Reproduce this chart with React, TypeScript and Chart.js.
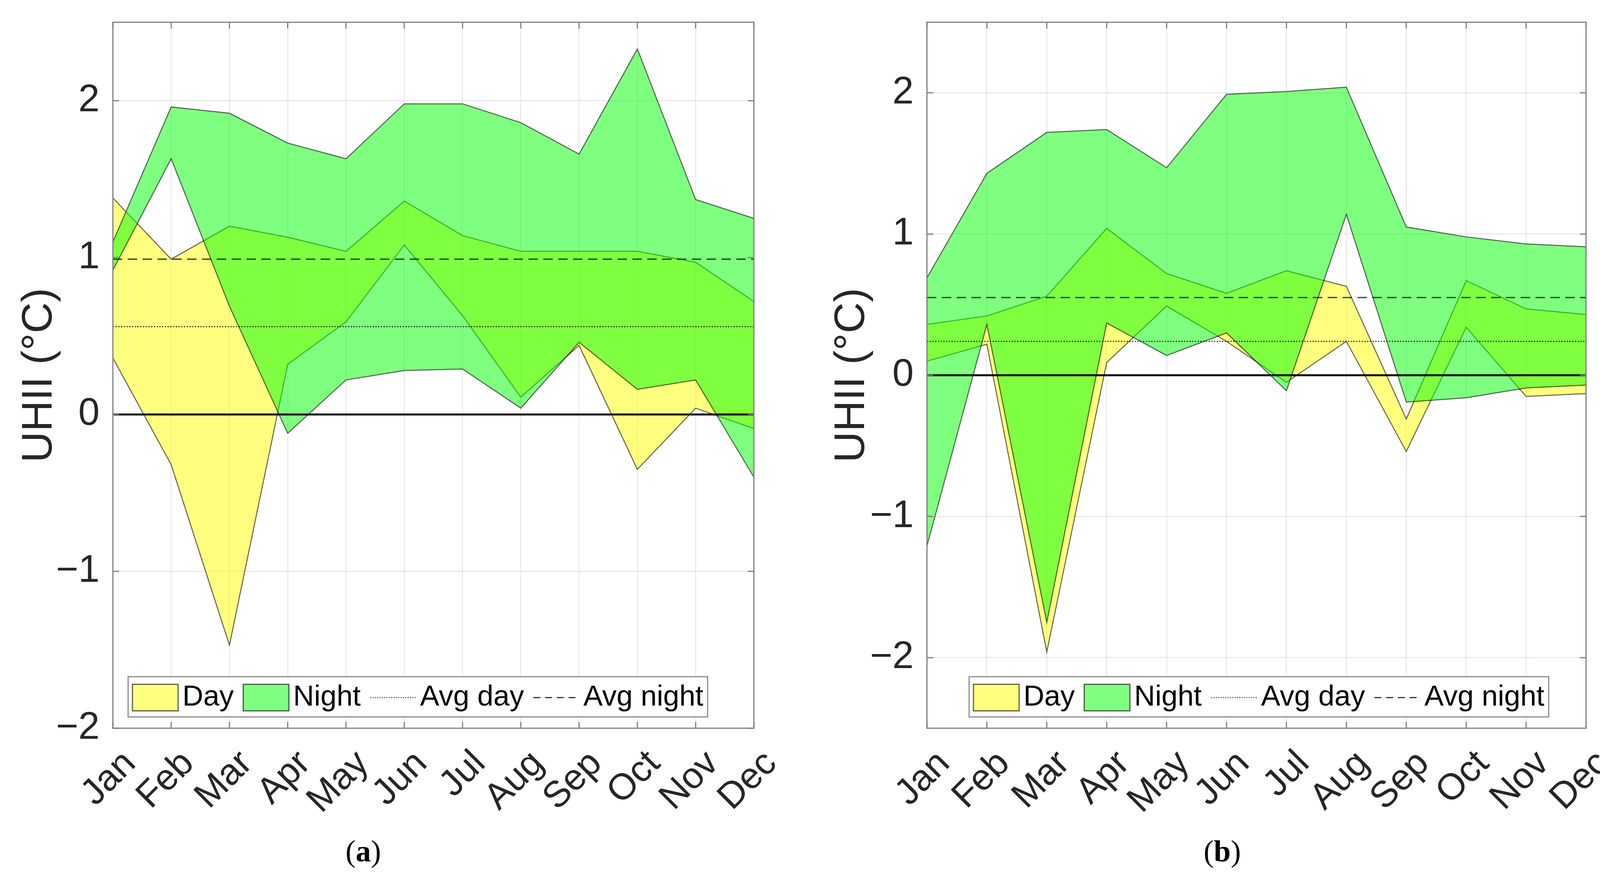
import React, { useEffect, useRef } from 'react';
import { Chart, registerables } from 'chart.js';

Chart.register(...registerables);

// ---------- data ----------
const months = ['Jan', 'Feb', 'Mar', 'Apr', 'May', 'Jun', 'Jul', 'Aug', 'Sep', 'Oct', 'Nov', 'Dec'];
const yTickValues = [-2, -1, 0, 1, 2];
const legendLabels = ['Day', 'Night', 'Avg day', 'Avg night'];
const yAxisTitle = 'UHII (°C)';

// Panel (a)
const dayLowA = [0.36, -0.32, -1.47, 0.32, 0.59, 1.08, 0.63, 0.11, 0.44, -0.35, 0.04, -0.09];
const dayHighA = [1.38, 0.99, 1.2, 1.13, 1.04, 1.36, 1.14, 1.04, 1.04, 1.04, 0.97, 0.72];
const nightLowA = [0.92, 1.63, 0.69, -0.12, 0.22, 0.28, 0.29, 0.04, 0.46, 0.16, 0.22, -0.4];
const nightHighA = [1.1, 1.96, 1.92, 1.73, 1.63, 1.98, 1.98, 1.86, 1.66, 2.33, 1.37, 1.25];
const avgDayA = 0.56;
const avgNightA = 0.99;
const yRangeA = [-2, 2.5];

// Panel (b)
const dayLowB = [0.1, 0.22, -1.96, 0.09, 0.49, 0.24, -0.05, 0.24, -0.54, 0.34, -0.15, -0.13];
const dayHighB = [0.36, 0.42, 0.56, 1.04, 0.72, 0.58, 0.74, 0.63, -0.31, 0.67, 0.47, 0.43];
const nightLowB = [-1.21, 0.36, -1.75, 0.37, 0.14, 0.3, -0.11, 1.14, -0.19, -0.16, -0.09, -0.07];
const nightHighB = [0.69, 1.43, 1.72, 1.74, 1.47, 1.99, 2.01, 2.04, 1.05, 0.98, 0.93, 0.91];
const avgDayB = 0.24;
const avgNightB = 0.55;
const yRangeB = [-2.5, 2.5];

// ---------- styles ----------
const FONT = '"Liberation Sans", Arial, Helvetica, sans-serif';
const YELLOW = 'rgba(255,255,0,0.5)';
const GREEN = 'rgba(0,255,0,0.5)';
const EDGE = 'rgba(0,0,0,0.62)';
const AXIS = '#7f7f7f';
const GRID = '#e2e2e2';
const TEXT = '#262626';

type PanelCfg = {
  dayLow: number[];
  dayHigh: number[];
  nightLow: number[];
  nightHigh: number[];
  avgDay: number;
  avgNight: number;
  yRange: number[];
  canvasW: number;
  canvasH: number;
  axisLeft: number;
  padRight: number;
  legendOffset: number;
};

const W_A = 2080;
const W_B = 2096;
const H = 2246;
const PLOT_TOP = 57;
const PLOT_BOTTOM = 1865;

const panelA: PanelCfg = {
  dayLow: dayLowA, dayHigh: dayHighA, nightLow: nightLowA, nightHigh: nightHighA,
  avgDay: avgDayA, avgNight: avgNightA, yRange: yRangeA,
  canvasW: W_A, canvasH: H, axisLeft: 289, padRight: W_A - 1930, legendOffset: 39,
};
const panelB: PanelCfg = {
  dayLow: dayLowB, dayHigh: dayHighB, nightLow: nightLowB, nightHigh: nightHighB,
  avgDay: avgDayB, avgNight: avgNightB, yRange: yRangeB,
  canvasW: W_B, canvasH: H, axisLeft: 2373 - 2080, padRight: W_B - (4083 - 2080), legendOffset: 108,
};

function decorPlugin(p: PanelCfg) {
  return {
    id: 'decor',
    afterDatasetsDraw(chart: any) {
      const { ctx, chartArea: a } = chart;
      const y = chart.scales.y;
      ctx.save();
      ctx.beginPath();
      ctx.rect(a.left, a.top, a.right - a.left, a.bottom - a.top);
      ctx.clip();
      const hline = (v: number, dash: number[], w: number, color: string) => {
        const py = y.getPixelForValue(v);
        ctx.beginPath();
        ctx.setLineDash(dash);
        ctx.lineWidth = w;
        ctx.strokeStyle = color;
        ctx.moveTo(a.left, py);
        ctx.lineTo(a.right, py);
        ctx.stroke();
      };
      hline(p.avgDay, [3, 4], 3, 'rgba(0,0,0,0.8)');
      hline(p.avgNight, [24, 14], 3, 'rgba(0,0,0,0.8)');
      hline(0, [], 5, '#000');
      ctx.restore();
    },
    afterDraw(chart: any) {
      const { ctx, chartArea: a } = chart;
      const x = chart.scales.x;
      const y = chart.scales.y;
      ctx.save();
      ctx.setLineDash([]);
      ctx.strokeStyle = AXIS;
      ctx.lineWidth = 3;
      ctx.strokeRect(a.left, a.top, a.right - a.left, a.bottom - a.top);
      const tl = 16;
      ctx.beginPath();
      yTickValues.forEach((v) => {
        const py = y.getPixelForValue(v);
        ctx.moveTo(a.left, py); ctx.lineTo(a.left + tl, py);
        ctx.moveTo(a.right, py); ctx.lineTo(a.right - tl, py);
      });
      months.forEach((_, i) => {
        const px = x.getPixelForValue(i);
        ctx.moveTo(px, a.bottom); ctx.lineTo(px, a.bottom - tl);
        ctx.moveTo(px, a.top); ctx.lineTo(px, a.top + tl);
      });
      ctx.stroke();

      // legend
      ctx.font = `74px ${FONT}`;
      const symW = 117;
      const symH = 68;
      const padX = 11;
      const gapSym = 11;
      const gapText = 24;
      const boxH = 103;
      let total = padX;
      legendLabels.forEach((lab, i) => {
        total += symW + gapSym + ctx.measureText(lab).width;
        if (i < legendLabels.length - 1) total += gapText;
      });
      total += padX;
      const bx = a.left + p.legendOffset;
      const by = a.bottom - 29 - boxH;
      ctx.fillStyle = '#ffffff';
      ctx.fillRect(bx, by, total, boxH);
      ctx.strokeStyle = '#8c8c8c';
      ctx.lineWidth = 3;
      ctx.strokeRect(bx, by, total, boxH);
      const cy = by + boxH / 2 + 2;
      let cx = bx + padX;
      legendLabels.forEach((lab, i) => {
        if (i < 2) {
          ctx.fillStyle = i === 0 ? YELLOW : GREEN;
          ctx.fillRect(cx, cy - symH / 2, symW, symH);
          ctx.strokeStyle = EDGE;
          ctx.lineWidth = 3;
          ctx.setLineDash([]);
          ctx.strokeRect(cx, cy - symH / 2, symW, symH);
        } else {
          ctx.beginPath();
          ctx.strokeStyle = i === 2 ? 'rgba(0,0,0,0.6)' : 'rgba(0,0,0,0.8)';
          ctx.lineWidth = 3;
          ctx.setLineDash(i === 2 ? [3, 3] : [18, 12]);
          ctx.moveTo(cx, cy);
          ctx.lineTo(cx + symW, cy);
          ctx.stroke();
          ctx.setLineDash([]);
        }
        cx += symW + gapSym;
        ctx.fillStyle = '#000';
        ctx.textAlign = 'left';
        ctx.textBaseline = 'middle';
        ctx.fillText(lab, cx, cy);
        cx += ctx.measureText(lab).width + gapText;
      });
      ctx.restore();
    },
  };
}

function fmtTick(v: number) {
  return String(v).replace('-', '\u2212');
}

function buildConfig(p: PanelCfg): any {
  const edge = { borderColor: EDGE, borderWidth: 2.5, pointRadius: 0, tension: 0 };
  return {
    type: 'line',
    data: {
      labels: months,
      datasets: [
        { label: 'Day low', data: p.dayLow, fill: false, order: 2, ...edge },
        { label: 'Day', data: p.dayHigh, fill: { target: 0, above: YELLOW, below: YELLOW }, backgroundColor: YELLOW, order: 2, ...edge },
        { label: 'Night low', data: p.nightLow, fill: false, order: 1, ...edge },
        { label: 'Night', data: p.nightHigh, fill: { target: 2, above: GREEN, below: GREEN }, backgroundColor: GREEN, order: 1, ...edge },
      ],
    },
    options: {
      animation: false,
      responsive: false,
      devicePixelRatio: 1,
      layout: { padding: { top: PLOT_TOP, right: p.padRight, left: 0, bottom: 0 } },
      plugins: { legend: { display: false }, tooltip: { enabled: false }, title: { display: false } },
      elements: { point: { radius: 0 }, line: { tension: 0 } },
      scales: {
        x: {
          type: 'category',
          offset: false,
          grid: { color: GRID, lineWidth: 2, drawTicks: false },
          border: { display: false },
          ticks: {
            autoSkip: false,
            maxRotation: 45,
            minRotation: 45,
            padding: 36,
            labelOffset: 44,
            color: TEXT,
            font: { family: FONT, size: 94 },
          },
          afterFit: (s: any) => { s.height = H - PLOT_BOTTOM; },
        },
        y: {
          min: p.yRange[0],
          max: p.yRange[1],
          afterBuildTicks: (s: any) => { s.ticks = yTickValues.map((v) => ({ value: v })); },
          grid: { color: GRID, lineWidth: 2, drawTicks: true, tickLength: 34, tickColor: 'rgba(0,0,0,0)' },
          border: { display: false },
          ticks: {
            padding: 0,
            color: TEXT,
            font: { family: FONT, size: 98, lineHeight: 1 },
            callback: (v: number) => fmtTick(v),
          },
          title: {
            display: true,
            text: yAxisTitle,
            color: TEXT,
            font: { family: FONT, size: 110 },
            padding: { top: 36, bottom: 0 },
          },
          afterFit: (s: any) => { s.width = p.axisLeft; },
        },
      },
    },
    plugins: [decorPlugin(p)],
  };
}

function PanelChart({ cfg, left }: { cfg: PanelCfg; left: number }) {
  const ref = useRef<HTMLCanvasElement | null>(null);
  useEffect(() => {
    if (!ref.current) return;
    const config = buildConfig(cfg);
    const chart = new Chart(ref.current, config);
    // nudge the plot area onto the target rectangle if layout margins moved it
    const dt = chart.chartArea.top - PLOT_TOP;
    if (Math.abs(dt) > 0.5 && config.options.layout.padding.top - dt >= 0) {
      config.options.layout.padding.top -= dt;
      chart.options = config.options;
      chart.update();
    }
    return () => chart.destroy();
  }, [cfg]);
  return (
    <canvas
      ref={ref}
      width={cfg.canvasW}
      height={cfg.canvasH}
      style={{ position: 'absolute', left, top: 0, width: cfg.canvasW, height: cfg.canvasH }}
    />
  );
}

const captionStyle: React.CSSProperties = {
  position: 'absolute',
  top: 2180,
  transform: 'translate(-50%, -50%)',
  fontFamily: '"Liberation Serif", "Times New Roman", serif',
  fontSize: 78,
  color: '#000',
  whiteSpace: 'nowrap',
  lineHeight: 1,
};

export default function App() {
  return (
    <div style={{ position: 'absolute', left: 0, top: 0, width: 4176, height: H, background: '#fff', overflow: 'hidden' }}>
      <PanelChart cfg={panelA} left={0} />
      <PanelChart cfg={panelB} left={2080} />
      <div style={{ ...captionStyle, left: 930 }}>(<b>a</b>)</div>
      <div style={{ ...captionStyle, left: 3129 }}>(<b>b</b>)</div>
    </div>
  );
}
